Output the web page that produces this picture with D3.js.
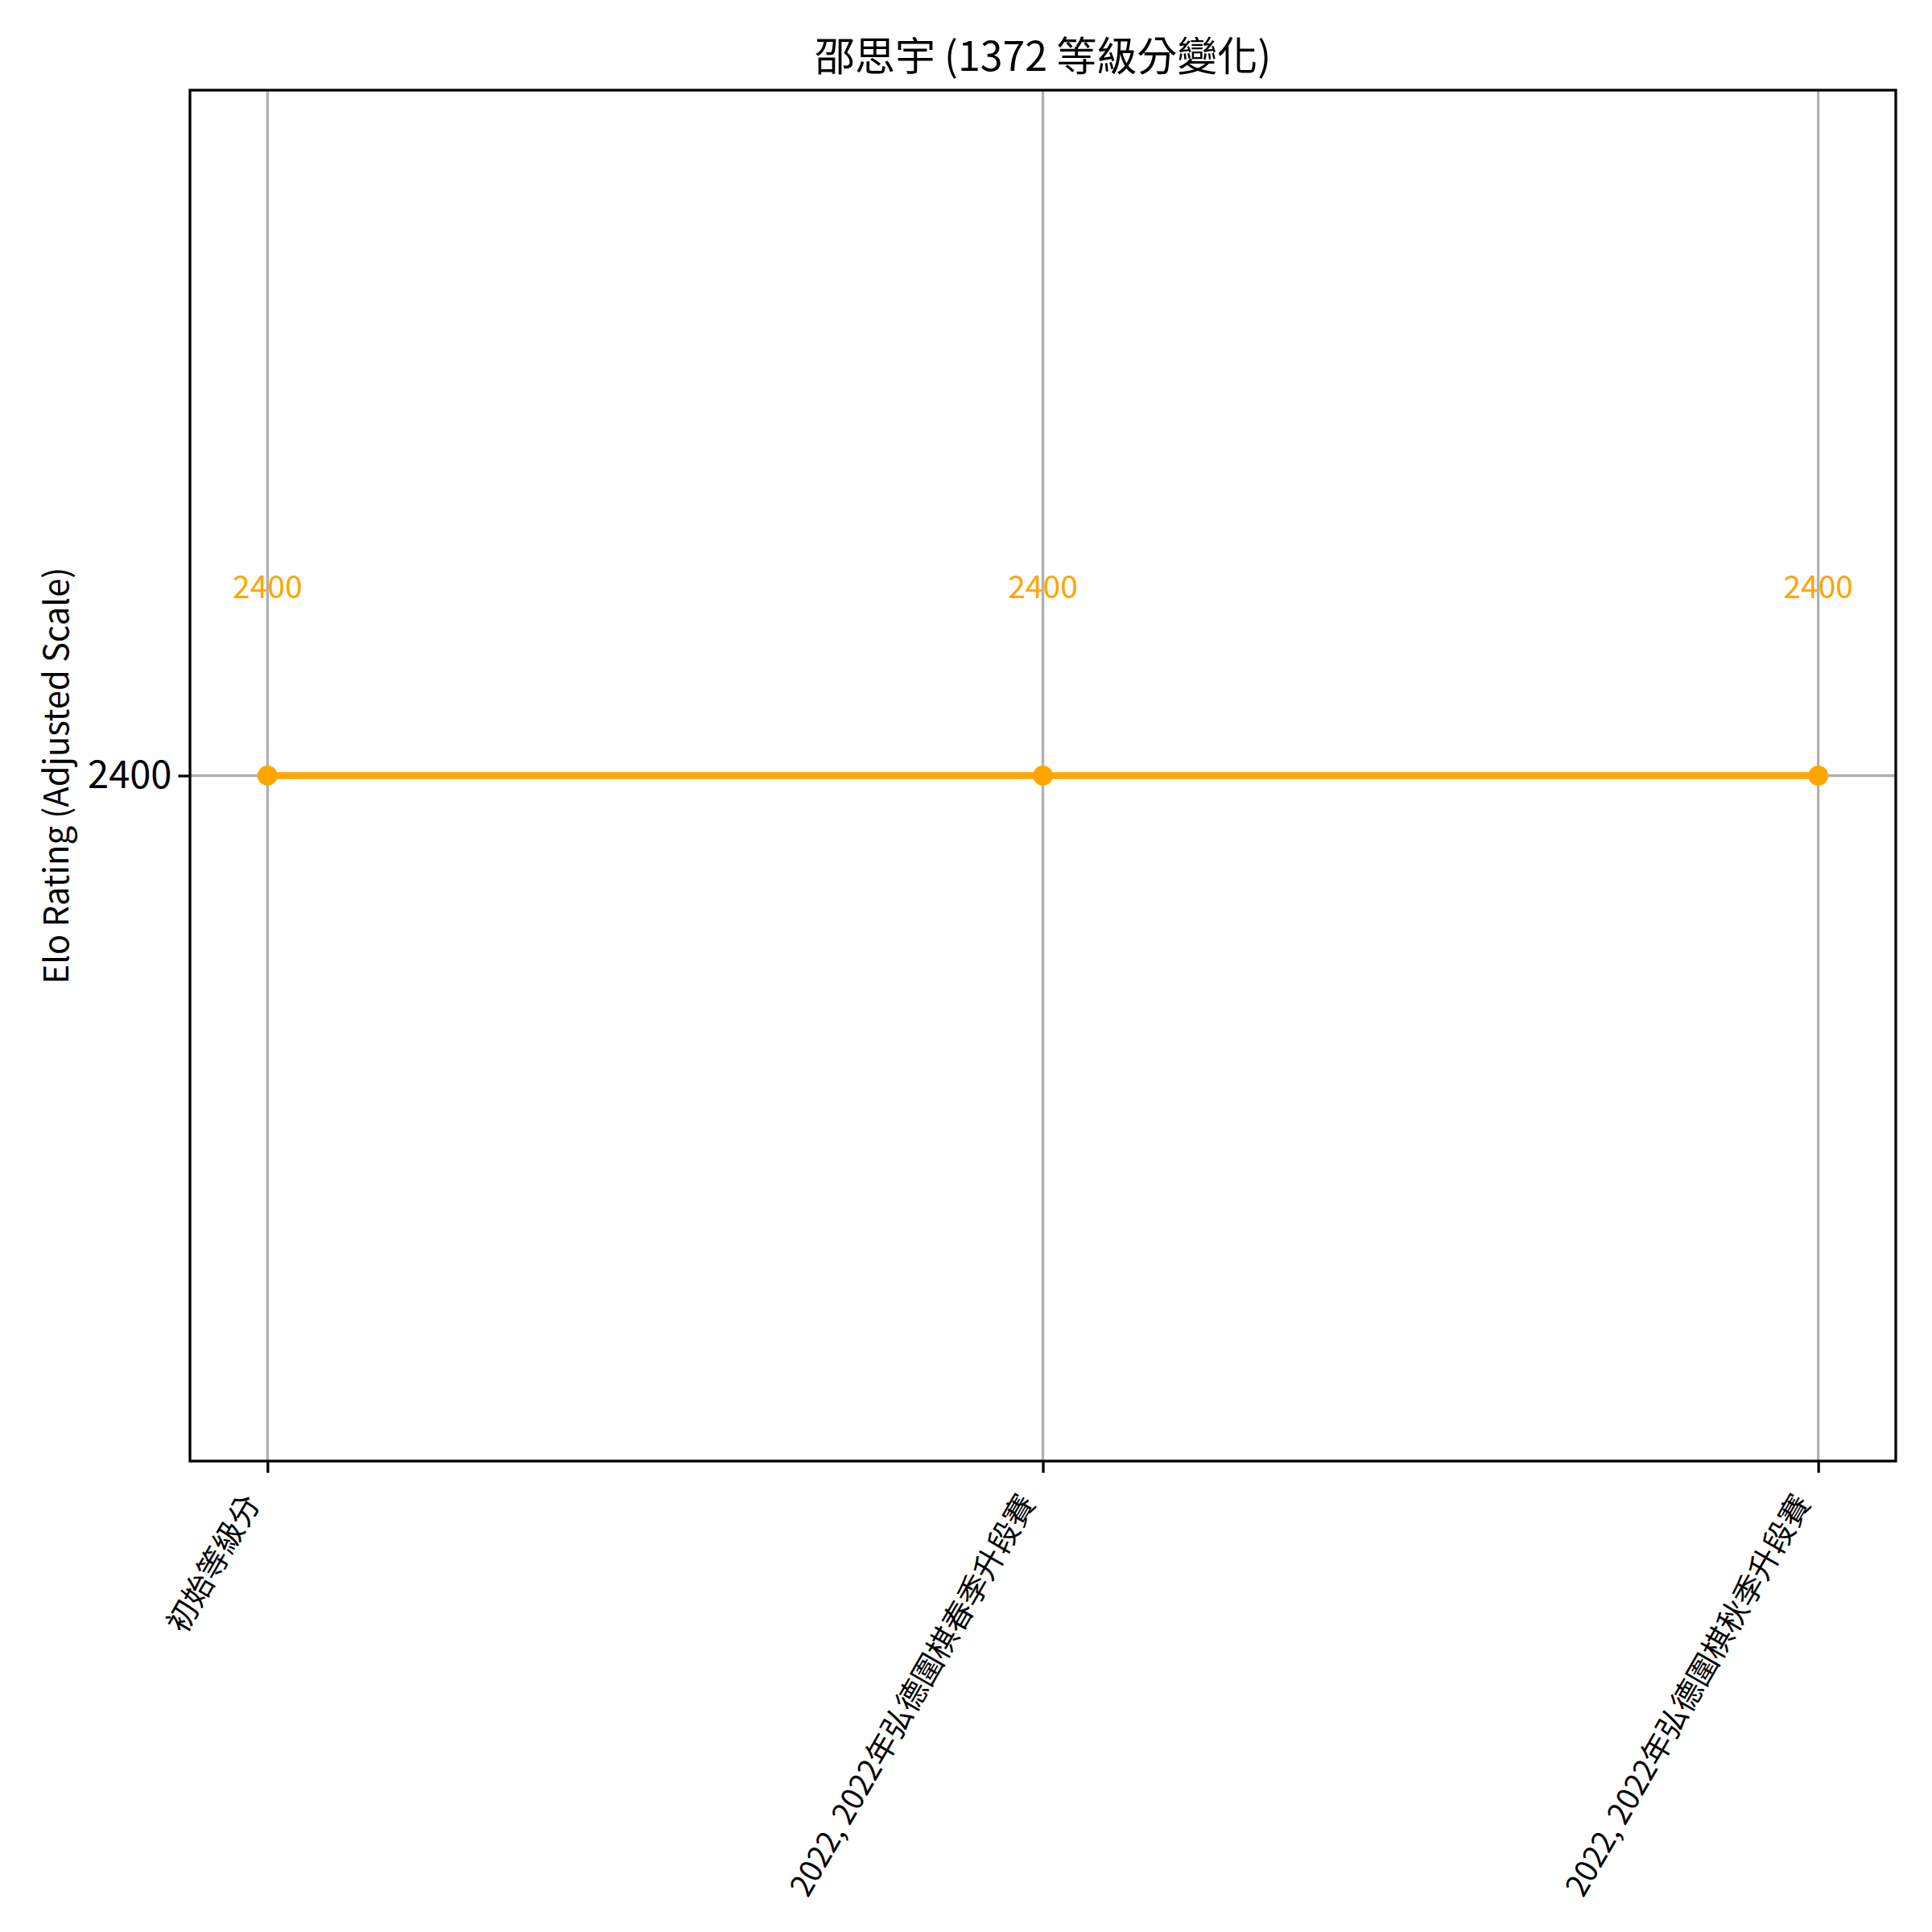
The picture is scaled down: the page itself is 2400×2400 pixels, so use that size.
<!DOCTYPE html>
<html>
<head>
<meta charset="utf-8">
<script src="https://cdn.jsdelivr.net/npm/d3@7"></script>
<style>
  html, body { margin: 0; padding: 0; background: #ffffff; }
  svg { display: block; }
  text { font-family: "Noto Sans CJK TC", "Noto Sans", sans-serif; }
</style>
</head>
<body>
<svg id="chart" width="2400" height="2400"></svg>
<script>
// ---- data ----
const categories = ["初始等級分", "2022, 2022年弘德圍棋春季升段賽", "2022, 2022年弘德圍棋秋季升段賽"];
const ratings = [2400, 2400, 2400];
const yTickValues = [2400];
const titleText = "邵思宇 (1372 等級分變化)";
const yLabelText = "Elo Rating (Adjusted Scale)";

// ---- layout ----
const W = 2400, H = 2400;
const plot = { left: 236, right: 2355, top: 112, bottom: 1815 };
const orange = "#FFA500";
const gridColor = "#b0b0b0";

const svg = d3.select("#chart");
svg.append("rect").attr("width", W).attr("height", H).attr("fill", "#fff");

const idx = categories.map((_, i) => i);
const x = d3.scaleLinear().domain([-0.1, categories.length - 1 + 0.1]).range([plot.left, plot.right]);
const y = d3.scaleLinear().domain([2268, 2532]).range([plot.bottom, plot.top]);

// grid
const grid = svg.append("g");
grid.selectAll("line.vg").data(idx).join("line")
  .attr("x1", d => x(d)).attr("x2", d => x(d))
  .attr("y1", plot.top).attr("y2", plot.bottom)
  .attr("stroke", gridColor).attr("stroke-width", 3.3);
grid.selectAll("line.hg").data(yTickValues).join("line")
  .attr("x1", plot.left).attr("x2", plot.right)
  .attr("y1", d => y(d)).attr("y2", d => y(d))
  .attr("stroke", gridColor).attr("stroke-width", 3.3);

// line
const line = d3.line().x((d, i) => x(i)).y(d => y(d));
svg.append("path").datum(ratings)
  .attr("d", line).attr("fill", "none")
  .attr("stroke", orange).attr("stroke-width", 8.3);

svg.selectAll("circle.pt").data(ratings).join("circle")
  .attr("cx", (d, i) => x(i)).attr("cy", d => y(d)).attr("r", 12.5)
  .attr("fill", orange);

// annotations
svg.selectAll("text.ann").data(ratings).join("text")
  .attr("x", (d, i) => x(i)).attr("y", d => y(d) - 221)
  .attr("text-anchor", "middle")
  .attr("font-size", 39).attr("fill", orange)
  .text(d => d);

// axes
const yAxis = svg.append("g").attr("transform", `translate(${plot.left},0)`)
  .call(d3.axisLeft(y).tickValues(yTickValues).tickSize(14.6).tickPadding(8).tickFormat(d3.format("d")));
yAxis.select(".domain").remove();
yAxis.selectAll(".tick line").attr("stroke", "#000").attr("stroke-width", 3.3);
yAxis.selectAll(".tick text").attr("font-size", 47).attr("fill", "#000")
  .style("font-family", '"Noto Sans CJK TC", "Noto Sans", sans-serif');

const xAxis = svg.append("g").attr("transform", `translate(0,${plot.bottom})`)
  .call(d3.axisBottom(x).tickValues(idx).tickSize(14.6).tickFormat(i => categories[i]));
xAxis.select(".domain").remove();
xAxis.selectAll(".tick line").attr("stroke", "#000").attr("stroke-width", 3.3);
const rot = 60;
const fsx = 38;
xAxis.selectAll(".tick text")
  .attr("font-size", fsx).attr("fill", "#000")
  .style("font-family", '"Noto Sans CJK TC", "Noto Sans", sans-serif')
  .attr("text-anchor", "end")
  .attr("y", 0).attr("dy", "0.8em")
  .attr("transform", `translate(${-fsx * Math.sin(rot * Math.PI / 180) - 2},${14.6 + 22}) rotate(${-rot})`);

// spines
svg.append("rect")
  .attr("x", plot.left).attr("y", plot.top)
  .attr("width", plot.right - plot.left).attr("height", plot.bottom - plot.top)
  .attr("fill", "none").attr("stroke", "#000").attr("stroke-width", 3.3);

// title
svg.append("text")
  .attr("x", (plot.left + plot.right) / 2).attr("y", 88)
  .attr("text-anchor", "middle").attr("font-size", 50).attr("fill", "#000")
  .text(titleText);

// y label
svg.append("text")
  .attr("transform", `translate(85,${(plot.top + plot.bottom) / 2}) rotate(-90)`)
  .attr("text-anchor", "middle").attr("font-size", 41.7).attr("fill", "#000")
  .text(yLabelText);
</script>
</body>
</html>
